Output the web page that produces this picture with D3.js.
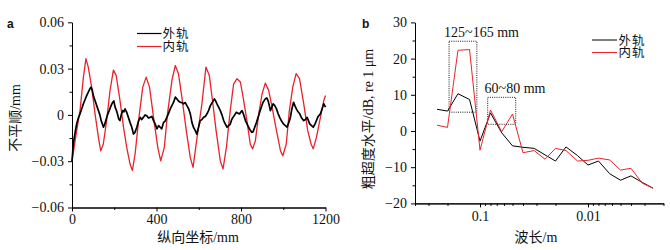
<!DOCTYPE html>
<html><head><meta charset="utf-8">
<script src="https://cdn.jsdelivr.net/npm/d3@7"></script>
<style>body{margin:0;background:#fff}svg text{font-family:"Liberation Serif","Noto Sans CJK SC",serif;fill:#111}</style>
</head><body><svg id="c" width="670" height="250"></svg>
<script>
// ---- Panel a: irregularity vs longitudinal position ----
const outerPos = [0,6,14,22,30,38,46,54,62,70,78,85,90,96,102,109,117,125,132,138,144,149,155,160,168,176,185,193,198,204,210,215,221,227,233,240,246,251,258,267,275,283,291,298,307,315,323,330,338,346,354,362,370,378,386,394,402,410,417,425,433,441,449,457,465,473,481,489,496,504,512,520,528,536,544,552,560,568,575,583,591,599,607,615,623,631,639,647,655,664,674,680,686,694,702,710,718,726,734,742,749,756,762,770,778,786,794,800,805,813,821,829,836,844,852,857,865,873,881,889,896,904,915,922,928,934,939,946,952,960,968,975,983,992,1002,1010,1018,1026,1034,1041,1049,1055,1062,1070,1078,1087,1097,1105,1113,1120,1126,1134,1142,1150,1157,1165,1176,1184,1192,1200];
const outerVal = [-0.030,-0.019,-0.012,-0.0059,-0.002,0.0007,0.004,0.0072,0.010,0.0126,0.015,0.017,0.018,0.0159,0.012,0.0093,0.006,0.0028,0.000,-0.0037,-0.006,-0.008,-0.006,-0.0037,0.000,0.0028,0.006,0.0082,0.009,0.005,0.003,0.0007,-0.0026,-0.0037,0.000,0.0028,0.002,0.0039,0.002,-0.0016,-0.005,-0.008,-0.0124,-0.0113,-0.008,-0.004,-0.0016,-0.003,-0.0016,0.000,-0.0005,-0.002,-0.0016,-0.001,-0.0037,-0.006,-0.009,-0.007,-0.008,-0.009,-0.005,-0.004,-0.0016,0.001,0.0039,0.006,0.0082,0.0115,0.0104,0.009,0.0082,0.008,0.0072,0.008,0.006,0.004,0.0007,-0.005,-0.008,-0.010,-0.0124,-0.008,-0.0037,-0.003,-0.0016,-0.001,0.0007,0.003,0.006,0.008,0.0104,0.009,0.0072,0.005,0.0028,0.000,-0.0037,-0.006,-0.008,-0.007,-0.006,-0.003,-0.0016,0.000,0.0017,0.001,0.0007,0.002,0.0028,0.000,-0.0037,-0.006,-0.008,-0.010,-0.0113,-0.011,-0.008,-0.005,-0.0016,0.002,0.005,0.008,0.0104,0.011,0.0093,0.006,0.0028,0.005,0.0072,0.006,0.0039,0.001,-0.0016,-0.004,-0.006,-0.007,-0.008,-0.005,-0.0016,0.004,0.0082,0.006,0.0039,0.002,0.0007,-0.002,-0.0037,-0.003,-0.0016,-0.004,-0.006,-0.007,-0.008,-0.006,-0.0037,-0.001,0.0007,0.004,0.0072,0.005];
const innerPos = [0,22,38,54,66,77,93,109,125,136,148,164,180,196,209,225,244,259,275,286,299,315,335,351,367,386,406,420,437,452,473,489,504,520,541,560,573,592,615,634,650,663,682,702,715,731,749,765,781,797,810,828,844,855,868,884,900,915,931,947,968,987,998,1014,1029,1045,1061,1077,1097,1116,1132,1142,1157,1176,1192,1200];
const innerVal = [-0.030,-0.0103,0.0028,0.0245,0.0365,0.031,0.018,0.0008,-0.0146,-0.0233,-0.019,-0.0037,0.0158,0.029,0.0256,0.0115,-0.0081,-0.021,-0.032,-0.036,-0.025,-0.0037,0.018,0.0245,0.018,-0.0016,-0.021,-0.0298,-0.021,0.0007,0.0224,0.032,0.0267,0.0115,-0.0102,-0.0277,-0.034,-0.0146,0.0072,0.031,0.0256,0.0115,-0.010,-0.0298,-0.035,-0.021,0.0028,0.020,0.0235,0.0213,0.0115,-0.0037,-0.019,-0.022,-0.0168,0.0007,0.0137,0.0206,0.0159,0.005,-0.0102,-0.0233,-0.0265,-0.019,0.0028,0.018,0.0267,0.0235,0.0072,-0.0102,-0.019,-0.022,-0.0146,-0.0016,0.0093,0.0126];
const aXTicks = [0,400,800,1200];
const aXMinor = [200,600,1000];
const aYTicks = [-0.06,-0.03,0,0.03,0.06];
const aYMinor = [-0.045,-0.015,0.015,0.045];
const seriesNames = ["外轨","内轨"];

// ---- Panel b: roughness level vs wavelength ----
const wavelengths = [0.25,0.2,0.16,0.125,0.1,0.08,0.063,0.05,0.04,0.0315,0.025,0.02,0.016,0.0125,0.01,0.008,0.0063,0.005,0.004,0.00315,0.0025];
const outerDb = [6.0,5.5,10.3,8.7,-2.8,5.0,-0.5,-4.1,-4.5,-4.8,-6.6,-8.3,-4.4,-6.8,-9.4,-8.3,-11.8,-13.6,-12.4,-14.2,-15.8];
const innerDb = [1.6,1.0,22.3,22.5,-5.3,5.8,-0.2,4.7,-6.0,-5.4,-7.8,-4.8,-5.4,-8.3,-8.1,-7.5,-8.0,-10.8,-10.3,-14.4,-15.8];
const bXTicks = [0.1,0.01];
const bXMinor = [0.4,0.3,0.2,0.09,0.08,0.07,0.06,0.05,0.04,0.03,0.02,0.009,0.008,0.007,0.006,0.005,0.004,0.003,0.002];
const bYTicks = [-20,-10,0,10,20,30];
const bYMinor = [-15,-5,5,15,25];
const boxLabels = ["125~165 mm","60~80 mm"];
const boxWl = [[0.1935,0.107],[0.0849,0.0467]];
const boxDb = [[5.2,24.8],[1.85,9.3]];

const RED = "#e8232b";
const svg = d3.select("#c");
const fmtNum = v => v === 0 ? "0" : (v < 0 ? "\u2212" : "") + String(Math.abs(v));
const fmtA = v => v === 0 ? "0" : (v < 0 ? "\u2212" : "") + Math.abs(v).toFixed(2);

function styleAxis(g){
  g.selectAll("path,line").attr("stroke","#000").attr("stroke-width",1);
  g.selectAll("text").style("font-size","14px").attr("fill","#111");
}

// Panel a
const xa = d3.scaleLinear().domain([0,1200]).range([72,325.5]);
const ya = d3.scaleLinear().domain([-0.06,0.06]).range([207.5,22.3]);
const ga = svg.append("g");
ga.append("g").attr("transform","translate(0,207.5)")
  .call(d3.axisBottom(xa).tickValues(aXTicks).tickSize(4).tickSizeOuter(0).tickPadding(3).tickFormat(d=>String(d))).call(styleAxis);
ga.append("g").attr("transform","translate(0,207.5)")
  .call(d3.axisBottom(xa).tickValues(aXMinor).tickSize(2.5).tickSizeOuter(0).tickFormat("")).call(styleAxis);
ga.append("g").attr("transform","translate(72,0)")
  .call(d3.axisLeft(ya).tickValues(aYTicks).tickSize(4).tickSizeOuter(0).tickPadding(4).tickFormat(fmtA)).call(styleAxis);
ga.append("g").attr("transform","translate(72,0)")
  .call(d3.axisLeft(ya).tickValues(aYMinor).tickSize(2.5).tickSizeOuter(0).tickFormat("")).call(styleAxis);

const lineA = d3.line().x(d=>xa(d[0])).y(d=>ya(d[1]));
ga.append("path").datum(innerPos.map((p,i)=>[p,innerVal[i]]))
  .attr("d",lineA).attr("fill","none").attr("stroke",RED).attr("stroke-width",1.3).attr("stroke-linejoin","round");
ga.append("path").datum(outerPos.map((p,i)=>[p,outerVal[i]]))
  .attr("d",lineA).attr("fill","none").attr("stroke","#000").attr("stroke-width",1.7).attr("stroke-linejoin","round");

// legend a
[["#000",33.5],[RED,46.5]].forEach(([c,yy],i)=>{
  ga.append("line").attr("x1",137).attr("x2",161.5).attr("y1",yy).attr("y2",yy).attr("stroke",c).attr("stroke-width",1.2);
  ga.append("text").attr("x",162.5).attr("y",yy).attr("dy","0.36em").style("font-size","12.5px").style("letter-spacing","1px").text(seriesNames[i]);
});
ga.append("text").attr("x",198).attr("y",237).attr("text-anchor","middle").attr("dy","0.36em").style("font-size","14px").text("纵向坐标/mm");
ga.append("text").attr("transform","translate(15,118) rotate(-90)").attr("text-anchor","middle").attr("dy","0.36em").style("font-size","14px").text("不平顺/mm");
ga.append("text").attr("x",7).attr("y",27.5).style("font-family","'Liberation Sans',Arial,sans-serif").style("font-weight","bold").style("font-size","12px").text("a");

// Panel b
const xb = d3.scaleLog().domain([0.4,0.002]).range([415,663.5]);
const yb = d3.scaleLinear().domain([-20,30]).range([203.4,22.4]);
const gb = svg.append("g");
gb.append("g").attr("transform","translate(0,203.4)")
  .call(d3.axisBottom(xb).tickValues(bXTicks).tickSize(4).tickSizeOuter(0).tickPadding(4).tickFormat(d=>String(d))).call(styleAxis);
gb.append("g").attr("transform","translate(0,203.4)")
  .call(d3.axisBottom(xb).tickValues(bXMinor).tickSize(2.5).tickSizeOuter(0).tickFormat("")).call(styleAxis);
gb.append("g").attr("transform","translate(415,0)")
  .call(d3.axisLeft(yb).tickValues(bYTicks).tickSize(4).tickSizeOuter(0).tickPadding(4).tickFormat(fmtNum)).call(styleAxis);
gb.append("g").attr("transform","translate(415,0)")
  .call(d3.axisLeft(yb).tickValues(bYMinor).tickSize(2.5).tickSizeOuter(0).tickFormat("")).call(styleAxis);

// boxes
boxWl.forEach((w,i)=>{
  gb.append("rect").attr("x",xb(w[0])).attr("y",yb(boxDb[i][1]))
    .attr("width",xb(w[1])-xb(w[0])).attr("height",yb(boxDb[i][0])-yb(boxDb[i][1]))
    .attr("fill","none").attr("stroke","#000").attr("stroke-width",0.9).attr("stroke-dasharray","1,1.2");
});
gb.append("text").attr("x",481.5).attr("y",37).attr("text-anchor","middle").style("font-size","14px").text(boxLabels[0]);
gb.append("text").attr("x",515).attr("y",92.5).attr("text-anchor","middle").style("font-size","14px").text(boxLabels[1]);

const lineB = d3.line().x(d=>xb(d[0])).y(d=>yb(d[1]));
gb.append("path").datum(wavelengths.map((w,i)=>[w,outerDb[i]]))
  .attr("d",lineB).attr("fill","none").attr("stroke","#000").attr("stroke-width",1);
gb.append("path").datum(wavelengths.map((w,i)=>[w,innerDb[i]]))
  .attr("d",lineB).attr("fill","none").attr("stroke",RED).attr("stroke-width",1);

[["#000",40],[RED,52.5]].forEach(([c,yy],i)=>{
  gb.append("line").attr("x1",592).attr("x2",617).attr("y1",yy).attr("y2",yy).attr("stroke",c).attr("stroke-width",1);
  gb.append("text").attr("x",618.5).attr("y",yy).attr("dy","0.36em").style("font-size","12.5px").style("letter-spacing","1px").text(seriesNames[i]);
});
gb.append("text").attr("x",536).attr("y",237).attr("text-anchor","middle").attr("dy","0.36em").style("font-size","14px").text("波长/m");
gb.append("text").attr("transform","translate(368,119) rotate(-90)").attr("text-anchor","middle").attr("dy","0.36em").style("font-size","14px").text("粗超度水平/dB, re 1 μm");
gb.append("text").attr("x",362).attr("y",27.5).style("font-family","'Liberation Sans',Arial,sans-serif").style("font-weight","bold").style("font-size","12px").text("b");
</script></body></html>
